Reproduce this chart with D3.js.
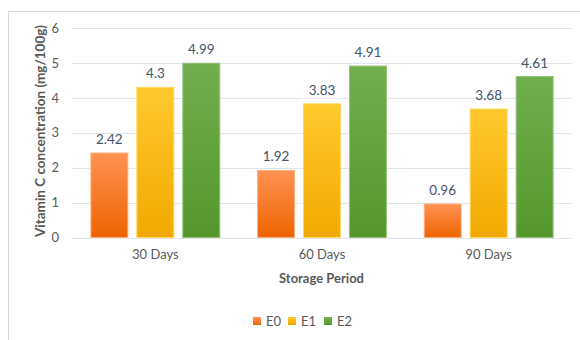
<!DOCTYPE html>
<html>
<head>
<meta charset="utf-8">
<script src="https://cdn.jsdelivr.net/npm/d3@7"></script>
<style>
  html, body { margin: 0; padding: 0; background: #fff; }
  svg { display: block; font-family: Lato, "Open Sans", sans-serif; }
</style>
</head>
<body>
<svg id="chart" width="580" height="340"></svg>
<script>
// Vitamin C content by storage period and treatment
const periods = ["30 Days", "60 Days", "90 Days"];
const seriesNames = ["E0", "E1", "E2"];
const E0 = [2.42, 1.92, 0.96];
const E1 = [4.3, 3.83, 3.68];
const E2 = [4.99, 4.91, 4.61];
const yTicks = [0, 1, 2, 3, 4, 5, 6];

const seriesValues = [E0, E1, E2];
const gradients = [
  { top: "#FF9254", bottom: "#EE6400", stroke: "#FFB080" },
  { top: "#FFC92E", bottom: "#F2A900", stroke: "#FFD866" },
  { top: "#71AE4D", bottom: "#55972C", stroke: "#93C27A" }
];

const svg = d3.select("#chart");
const plotLeft = 72;
const plotRight = 572;
const plotTop = 28;
const plotBottom = 237.5;

// chart frame
svg.append("rect")
  .attr("x", 8.5).attr("y", 11.5)
  .attr("width", 600).attr("height", 400)
  .attr("fill", "none").attr("stroke", "#D9D9D9");

const x = d3.scaleBand().domain(periods).range([plotLeft, plotRight]).paddingInner(0).paddingOuter(0);
const xs = d3.scaleBand().domain(seriesNames).range([0, x.bandwidth()]).paddingInner(0.174).paddingOuter(0.4);
const y = d3.scaleLinear().domain([0, 6]).range([plotBottom, plotTop]);

const defs = svg.append("defs");
gradients.forEach((g, i) => {
  const lg = defs.append("linearGradient").attr("id", "grad" + i)
    .attr("x1", 0).attr("y1", 0).attr("x2", 0).attr("y2", 1);
  lg.append("stop").attr("offset", "0%").attr("stop-color", g.top);
  lg.append("stop").attr("offset", "100%").attr("stop-color", g.bottom);
});

// gridlines
svg.append("g")
  .selectAll("line").data(yTicks).join("line")
  .attr("x1", plotLeft).attr("x2", plotRight)
  .attr("y1", d => Math.round(y(d)) + 0.5).attr("y2", d => Math.round(y(d)) + 0.5)
  .attr("stroke", "#E1E4EA").attr("stroke-width", 1.2);

// y axis labels
const yAxis = d3.axisLeft(y).tickValues(yTicks).tickFormat(d3.format("d")).tickSize(0).tickPadding(0);
const yg = svg.append("g").attr("transform", `translate(${plotLeft - 13},0)`).call(yAxis);
yg.select(".domain").remove();
yg.selectAll("text").attr("font-size", 13).attr("fill", "#595959")
  .attr("font-family", "Lato, sans-serif");

// bars
const groups = svg.append("g").selectAll("g").data(periods).join("g")
  .attr("transform", d => `translate(${x(d)},0)`);

groups.each(function(p, pi) {
  const g = d3.select(this);
  seriesNames.forEach((s, si) => {
    const v = seriesValues[si][pi];
    g.append("rect")
      .attr("x", xs(s) + 0.5)
      .attr("y", y(v))
      .attr("width", xs.bandwidth() - 1)
      .attr("height", y(0) - y(v))
      .attr("fill", `url(#grad${si})`)
      .attr("stroke", gradients[si].stroke)
      .attr("stroke-width", 1);
    g.append("text")
      .attr("x", xs(s) + xs.bandwidth() / 2)
      .attr("y", y(v) - 9)
      .attr("text-anchor", "middle")
      .attr("font-size", 13.5)
      .attr("fill", "#44546A")
      .text(v);
  });
});

// x axis labels
const xAxis = d3.axisBottom(x).tickSize(0).tickPadding(0);
const xg = svg.append("g").attr("transform", `translate(0,${plotBottom + 12})`).call(xAxis);
xg.select(".domain").remove();
xg.selectAll("text").attr("font-size", 13).attr("fill", "#595959")
  .attr("font-family", "Lato, sans-serif");

// axis titles
svg.append("text")
  .attr("x", (plotLeft + plotRight) / 2 - 0.5)
  .attr("y", 283)
  .attr("text-anchor", "middle")
  .attr("font-size", 13).attr("font-weight", "bold").attr("fill", "#595959")
  .text("Storage Period");

svg.append("text")
  .attr("transform", `translate(45,131) rotate(-90)`)
  .attr("text-anchor", "middle")
  .attr("font-size", 13.5).attr("font-weight", "bold").attr("fill", "#595959")
  .text("Vitamin C concentration (mg/100g)");

// legend
const legendX = [253, 288, 324];
const legend = svg.append("g").selectAll("g").data(seriesNames).join("g")
  .attr("transform", (d, i) => `translate(${legendX[i]},317)`);
legend.append("rect").attr("width", 8).attr("height", 8)
  .attr("fill", (d, i) => `url(#grad${i})`);
legend.append("text").attr("x", 13).attr("y", 8.5)
  .attr("font-size", 13).attr("fill", "#595959")
  .text(d => d);
</script>
</body>
</html>
